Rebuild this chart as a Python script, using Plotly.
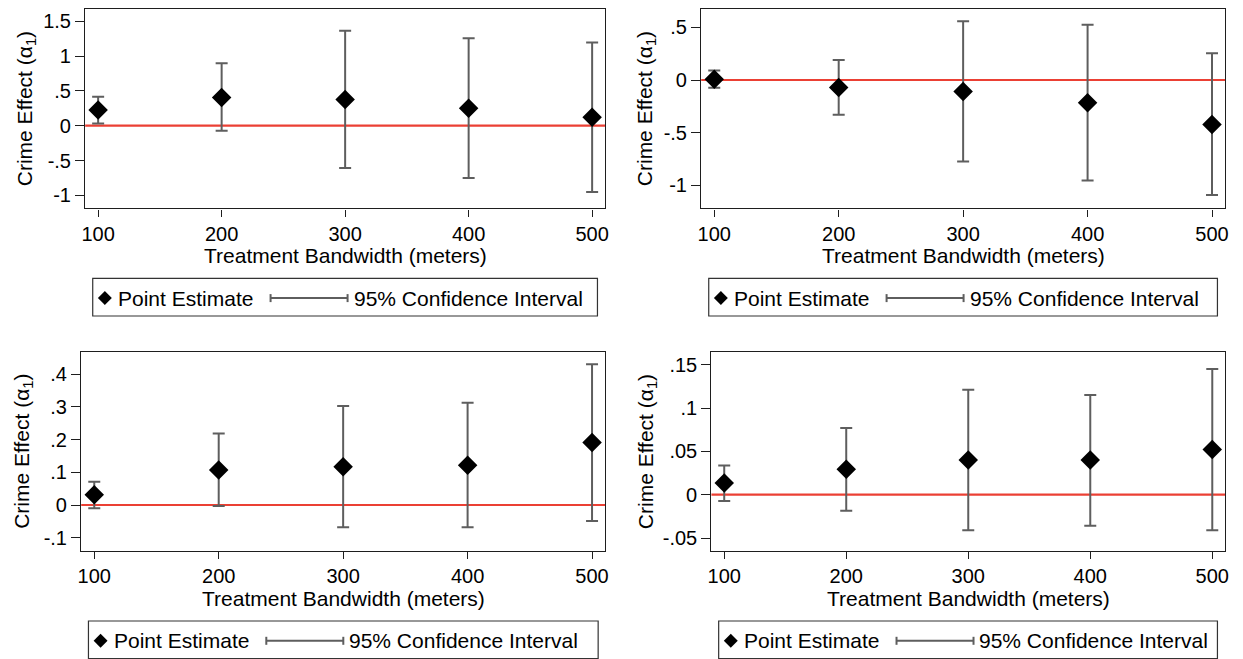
import plotly.graph_objects as go

W, H = 1243, 659

bandwidth = [100, 200, 300, 400, 500]

# Panel estimates and 95% CI bounds
est_1 = [0.225, 0.405, 0.376, 0.249, 0.120]
up_1 = [0.416, 0.897, 1.364, 1.254, 1.193]
lo_1 = [0.033, -0.072, -0.608, -0.751, -0.952]

est_2 = [0.006, -0.071, -0.110, -0.215, -0.422]
up_2 = [0.089, 0.190, 0.557, 0.525, 0.253]
lo_2 = [-0.074, -0.329, -0.773, -0.953, -1.092]

est_3 = [0.031, 0.107, 0.117, 0.122, 0.191]
up_3 = [0.071, 0.219, 0.303, 0.313, 0.431]
lo_3 = [-0.010, -0.003, -0.068, -0.068, -0.049]

est_4 = [0.0135, 0.0292, 0.040, 0.040, 0.052]
up_4 = [0.0338, 0.0769, 0.121, 0.115, 0.145]
lo_4 = [-0.0073, -0.0185, -0.041, -0.036, -0.041]

yticks_1 = [-1, -0.5, 0, 0.5, 1, 1.5]
ylabels_1 = ["-1", "-.5", "0", ".5", "1", "1.5"]
yticks_2 = [-1, -0.5, 0, 0.5]
ylabels_2 = ["-1", "-.5", "0", ".5"]
yticks_3 = [-0.1, 0, 0.1, 0.2, 0.3, 0.4]
ylabels_3 = ["-.1", "0", ".1", ".2", ".3", ".4"]
yticks_4 = [-0.05, 0, 0.05, 0.1, 0.15]
ylabels_4 = ["-.05", "0", ".05", ".1", ".15"]

xticks = [100, 200, 300, 400, 500]
xlabels = ["100", "200", "300", "400", "500"]

ytitle = "Crime Effect (α<sub>1</sub>)"
xtitle = "Treatment Bandwidth (meters)"
leg_point = "Point Estimate"
leg_ci = "95% Confidence Interval"

FONT = "Liberation Sans, Arial, Helvetica, sans-serif"
TICK_SIZE = 20
TITLE_SIZE = 21
RED = "#eb4034"
GRAY = "#5e5e5e"
FRAME = "#1e1e1e"


def px(x):
    return x / W


def py(y):
    return 1 - y / H


# panel geometry in pixels: frame left/right/top/bottom, y range, ytitle x, legend box
panels = [
    dict(est=est_1, up=up_1, lo=lo_1, yt=yticks_1, yl=ylabels_1,
         frame=(81.7, 605, 9, 208.3), yr=(-1.186, 1.675), ytx=21.7,
         leg=(89.3, 597.3, 278.3)),
    dict(est=est_2, up=up_2, lo=lo_2, yt=yticks_2, yl=ylabels_2,
         frame=(701.7, 1229, 9, 208.3), yr=(-1.218, 0.674), ytx=645.7,
         leg=(709.3, 1221.3, 278.3)),
    dict(est=est_3, up=up_3, lo=lo_3, yt=yticks_3, yl=ylabels_3,
         frame=(77.7, 605, 352.3, 551), yr=(-0.1408, 0.4674), ytx=18.3,
         leg=(85, 598, 621)),
    dict(est=est_4, up=up_4, lo=lo_4, yt=yticks_4, yl=ylabels_4,
         frame=(712, 1229, 352.3, 551), yr=(-0.065, 0.1643), ytx=646.7,
         leg=(719.3, 1221.3, 621)),
]

fig = go.Figure()
shapes = []
annotations = []

for i, p in enumerate(panels, start=1):
    sfx = "" if i == 1 else str(i)
    xa, ya = "x" + sfx, "y" + sfx
    plus = [u - e for u, e in zip(p["up"], p["est"])]
    minus = [e - l for e, l in zip(p["est"], p["lo"])]
    fig.add_trace(go.Scatter(
        x=bandwidth, y=p["est"], mode="markers", xaxis=xa, yaxis=ya,
        marker=dict(symbol="diamond", size=15, color="black"),
        error_y=dict(type="data", array=plus, arrayminus=minus, symmetric=False,
                     color=GRAY, thickness=2, width=6),
        showlegend=False, hoverinfo="skip"))

    L, R, T, B = p["frame"]
    axis_common = dict(showline=True, mirror=True, linecolor=FRAME, linewidth=1.4,
                       ticks="outside", tickcolor=FRAME, tickwidth=1.4,
                       showgrid=False, zeroline=False,
                       tickfont=dict(family=FONT, size=TICK_SIZE, color="black"))
    fig.layout["xaxis" + sfx] = dict(
        domain=[px(L), px(R)], anchor=ya, range=[89.5, 510.5],
        tickvals=xticks, ticktext=xlabels, ticklen=7, **axis_common)
    fig.layout["yaxis" + sfx] = dict(
        domain=[py(B), py(T)], anchor=xa, range=list(p["yr"]),
        tickvals=p["yt"], ticktext=p["yl"], ticklen=9, **axis_common)

    # zero reference line
    shapes.append(dict(type="line", xref=xa + " domain", yref=ya, x0=0, x1=1, y0=0, y1=0,
                       line=dict(color=RED, width=2.2), layer="below"))

    # axis titles
    annotations.append(dict(text=ytitle, xref="paper", yref="paper", x=px(p["ytx"]),
                            y=py((T + B) / 2), textangle=-90, showarrow=False,
                            xanchor="center", yanchor="middle",
                            font=dict(family=FONT, size=TITLE_SIZE, color="black")))
    annotations.append(dict(text=xtitle, xref="paper", yref="paper", x=px((L + R) / 2),
                            y=py(B + 47), showarrow=False, xanchor="center",
                            yanchor="middle",
                            font=dict(family=FONT, size=TITLE_SIZE, color="black")))

    # legend box
    bl, br, bt = p["leg"]
    shapes.append(dict(type="rect", xref="paper", yref="paper", x0=px(bl), x1=px(br),
                       y0=py(bt + 37.7), y1=py(bt), line=dict(color="#333333", width=1.2),
                       fillcolor="white", layer="above"))
    cy = bt + 19.8
    dx = bl + 12.2
    r = 7
    shapes.append(dict(type="path", xref="paper", yref="paper",
                       path=f"M {px(dx - r)} {py(cy)} L {px(dx)} {py(cy - r)} L {px(dx + r)} {py(cy)} L {px(dx)} {py(cy + r)} Z",
                       fillcolor="black", line=dict(color="black", width=0)))
    cs, ce = bl + 179, bl + 256.5
    shapes.append(dict(type="line", xref="paper", yref="paper", x0=px(cs), x1=px(ce),
                       y0=py(cy), y1=py(cy), line=dict(color=GRAY, width=2)))
    for cx in (cs, ce):
        shapes.append(dict(type="line", xref="paper", yref="paper", x0=px(cx), x1=px(cx),
                           y0=py(cy - 4), y1=py(cy + 4), line=dict(color=GRAY, width=2)))
    annotations.append(dict(text=leg_point, xref="paper", yref="paper", x=px(bl + 23.5),
                            y=py(cy), showarrow=False, xanchor="left", yanchor="middle",
                            font=dict(family=FONT, size=TITLE_SIZE, color="black")))
    annotations.append(dict(text=leg_ci, xref="paper", yref="paper", x=px(bl + 260.5),
                            y=py(cy), showarrow=False, xanchor="left", yanchor="middle",
                            font=dict(family=FONT, size=TITLE_SIZE, color="black")))

fig.update_layout(
    width=W, height=H, margin=dict(l=0, r=0, t=0, b=0),
    paper_bgcolor="white", plot_bgcolor="white",
    shapes=shapes, annotations=annotations, showlegend=False,
    font=dict(family=FONT, color="black"))

fig.write_html("out.html")
